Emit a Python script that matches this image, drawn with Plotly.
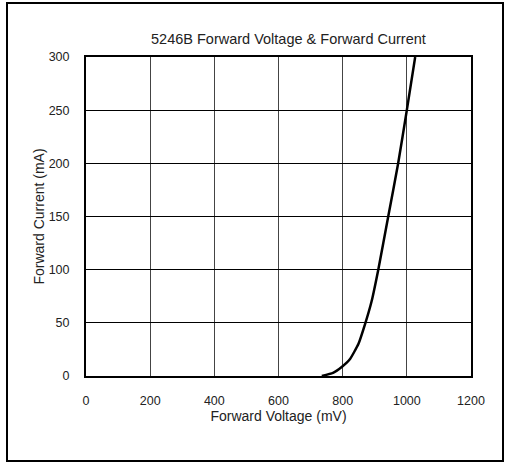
import plotly.graph_objects as go

voltage_mv = [735, 770, 797, 823, 849, 870, 890, 911, 942, 973, 1000, 1026]
current_ma = [0, 3, 8.5, 16, 30, 49, 70, 100, 150, 200, 250, 300]

x_ticks = [0, 200, 400, 600, 800, 1000, 1200]
y_ticks = [0, 50, 100, 150, 200, 250, 300]

title_text = "5246B Forward Voltage & Forward Current"
x_title = "Forward Voltage (mV)"
y_title = "Forward Current (mA)"

FONT = "Liberation Sans, Arial, sans-serif"

fig = go.Figure()
fig.add_trace(go.Scatter(
    x=voltage_mv, y=current_ma, mode="lines",
    line=dict(color="black", width=2.5, shape="spline", smoothing=0.4),
    showlegend=False, hoverinfo="skip", cliponaxis=True,
))

L, R, T, B = 86, 34, 57, 87
W, H = 505, 463
pw, ph = W - L - R, H - T - B

def px2paper_x(px):
    return (px - L) / pw

def px2paper_y(py):
    return (H - B - py) / ph

fig.update_layout(
    width=W, height=H,
    margin=dict(l=L, r=R, t=T, b=B, pad=0),
    paper_bgcolor="white", plot_bgcolor="white",
    font=dict(family=FONT, size=12, color="#222"),
    annotations=[dict(
        text=title_text, xref="paper", yref="paper",
        x=px2paper_x(288), y=px2paper_y(39), xanchor="center", yanchor="middle",
        showarrow=False, font=dict(family=FONT, size=14.5, color="#222"),
    )],
    shapes=[dict(
        type="rect", xref="paper", yref="paper",
        x0=px2paper_x(7), x1=px2paper_x(503), y0=px2paper_y(461), y1=px2paper_y(3),
        line=dict(color="black", width=2), fillcolor="rgba(0,0,0,0)", layer="below",
    )],
    xaxis=dict(
        range=[0, 1200], tickvals=x_ticks, ticktext=[str(v) for v in x_ticks],
        showgrid=True, gridcolor="#444", gridwidth=1,
        showline=True, linecolor="black", linewidth=2, mirror=True,
        zeroline=False, ticks="", ticklabelstandoff=12,
        title=dict(text=x_title, font=dict(family=FONT, size=14, color="#222"), standoff=3),
        tickfont=dict(family=FONT, size=12.5, color="#222"),
    ),
    yaxis=dict(
        range=[0, 300], tickvals=y_ticks, ticktext=[str(v) for v in y_ticks],
        showgrid=True, gridcolor="black", gridwidth=1,
        showline=True, linecolor="black", linewidth=2, mirror=True,
        zeroline=False, ticks="", ticklabelstandoff=12,
        title=dict(text=y_title, font=dict(family=FONT, size=14, color="#222"), standoff=1),
        tickfont=dict(family=FONT, size=12.5, color="#222"),
    ),
)

fig.write_html("out.html", config={"displayModeBar": False, "staticPlot": True},
               post_script="document.body.style.margin='0';")
